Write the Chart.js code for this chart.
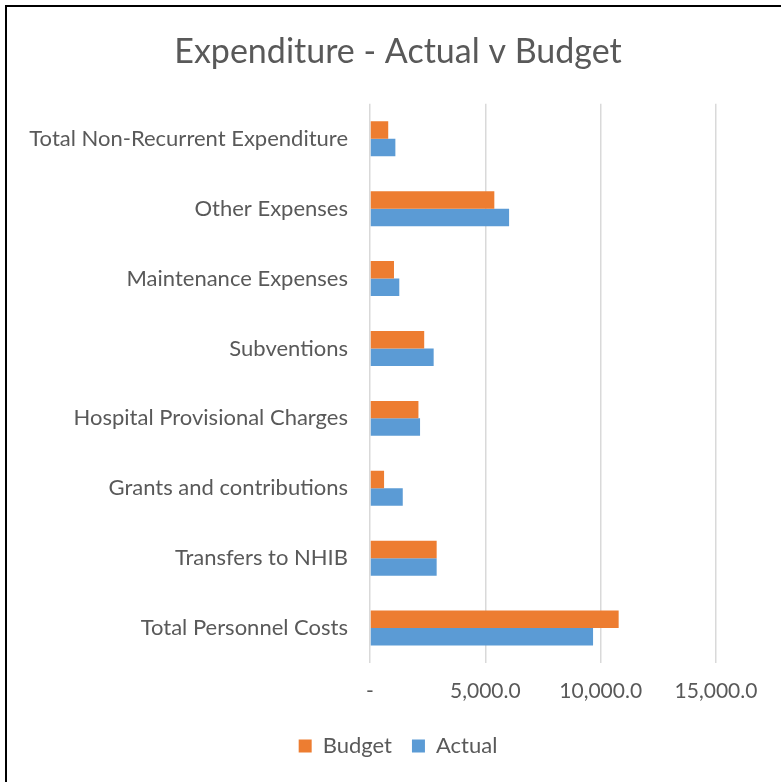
<!DOCTYPE html>
<html>
<head>
<meta charset="utf-8">
<script src="https://cdn.jsdelivr.net/npm/chart.js@4/dist/chart.umd.min.js"></script>
<style>
  html, body { margin: 0; padding: 0; background: #fff; overflow: hidden; }
  #wrap { position: absolute; left: 0; top: 0; width: 781px; height: 782px; }
  #frame { position: absolute; left: 5px; top: 5px; width: 800px; height: 800px;
           border-left: 2px solid #000; border-top: 2px solid #000; pointer-events: none; }
</style>
</head>
<body>
<div id="wrap"><canvas id="grafico" width="781" height="782"></canvas></div>
<div id="frame"></div>
<script>
const categories = [
    "Total Non-Recurrent Expenditure",
    "Other Expenses",
    "Maintenance Expenses",
    "Subventions",
    "Hospital Provisional Charges",
    "Grants and contributions",
    "Transfers to NHIB",
    "Total Personnel Costs"
];
const budget = [790, 5390, 1040, 2350, 2100, 610, 2890, 10780];
const actual = [1100, 6030, 1270, 2760, 2170, 1420, 2890, 9670];
const xTicks = [0, 5000, 10000, 15000];

const FONT = "Lato";
const GREY = "#595959";

// the left padding centres title + legend like the original,
// so let the category labels spill past it instead of being clipped
const unclipLabels = {
    id: "unclipLabels",
    afterLayout: (chart) => { chart.scales.y.left = 0; }
};

const ctx = document.getElementById("grafico").getContext("2d");
const chart = new Chart(ctx, {
    type: "bar",
    data: {
        labels: categories,
        datasets: [
            {
                label: "Budget",
                data: budget,
                backgroundColor: "#ED7D31",
                categoryPercentage: 0.5,
                barPercentage: 1.0
            },
            {
                label: "Actual",
                data: actual,
                backgroundColor: "#5B9BD5",
                categoryPercentage: 0.5,
                barPercentage: 1.0
            }
        ]
    },
    plugins: [unclipLabels],
    options: {
        indexAxis: "y",
        responsive: false,
        animation: false,
        layout: { padding: { left: 80, right: 65, top: 0, bottom: 15 } },
        plugins: {
            title: {
                display: true,
                text: "Expenditure - Actual v Budget",
                color: GREY,
                font: { family: FONT, size: 34, weight: "normal" },
                padding: { top: 32, bottom: 31 }
            },
            legend: {
                position: "bottom",
                labels: {
                    color: GREY,
                    font: { family: FONT, size: 22 },
                    boxWidth: 13,
                    boxHeight: 13,
                    padding: 20
                }
            },
            tooltip: { enabled: false }
        },
        scales: {
            x: {
                min: 0,
                max: 15000,
                afterBuildTicks: (scale) => {
                    scale.ticks = xTicks.map(v => ({ value: v }));
                },
                afterFit: (scale) => { scale.height = 52; },
                grid: { color: "#d9d9d9", lineWidth: 1.5, drawTicks: false },
                border: { display: false },
                ticks: {
                    color: GREY,
                    font: { family: FONT, size: 21 },
                    padding: 16,
                    callback: (v) => v === 0 ? "-" :
                        v.toLocaleString("en-US", { minimumFractionDigits: 1, maximumFractionDigits: 1 })
                }
            },
            y: {
                afterFit: (scale) => { scale.width = 290; },
                grid: { display: false, drawTicks: false },
                border: { display: false },
                ticks: {
                    color: GREY,
                    font: { family: FONT, size: 22 },
                    padding: 22
                }
            }
        }
    }
});
</script>
</body>
</html>
